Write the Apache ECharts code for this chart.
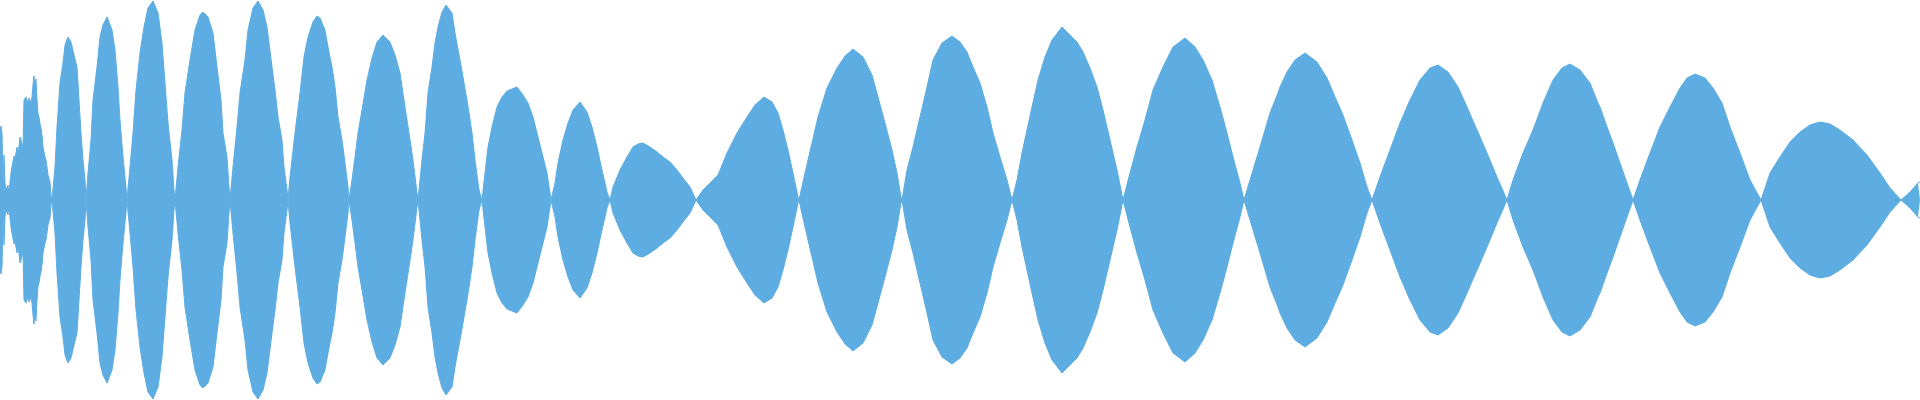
<!DOCTYPE html>
<html>
<head>
<meta charset="utf-8">
<script src="https://cdn.jsdelivr.net/npm/echarts@6/dist/echarts.min.js"></script>
<style>
  html, body { margin: 0; padding: 0; background: #ffffff; }
  #chart { width: 1920px; height: 400px; }
</style>
</head>
<body>
<div id="chart"></div>
<script>
// Sample positions (x, in samples) and envelope amplitude
const sampleX = [
  0,1,2,3,4,5,6,7,8,9,10,11,12,13,14,15,16,17,18,19,20,21,22,23,24,25,26,27,28,29,30,31,32,33,34,35,36,37,38,39,40,41,42,43,44,45,46,47,48,49,50,51,52,
  55,57,60,63,65,68,71,74,77,79,81,83,85,86,
  88,91,93,97,100,103,107,112,115,118,120,123,126,127,
  130,133,136,140,144,148,153,158,162,165,168,172,174,175,
  178,182,185,190,195,200,203,208,213,217,221,223,227,229,230,
  233,237,240,245,248,253,258,263,267,272,275,278,282,284,287,288,
  290,295,300,304,308,313,317,320,325,328,332,335,338,342,345,348,349,
  352,355,358,362,367,372,377,383,390,395,400,405,409,413,417,418,
  422,425,428,432,435,438,442,446,452,455,460,463,467,472,475,479,482,
  485,488,492,497,502,507,512,517,523,528,533,538,543,547,550,551,
  555,558,563,568,573,580,587,592,597,602,607,610,
  613,620,627,633,638,643,650,657,663,670,677,683,690,696,
  703,710,718,727,737,747,755,764,772,778,783,788,793,798,799,
  805,812,818,827,837,845,853,863,872,878,885,892,897,901,902,
  907,913,920,927,933,942,952,960,967,973,980,987,993,1000,1007,1012,
  1017,1022,1027,1032,1038,1045,1052,1062,1070,1077,1083,1090,1097,1103,1110,1117,1123,
  1130,1137,1145,1153,1163,1173,1185,1195,1203,1212,1220,1227,1233,1240,1244,
  1250,1260,1270,1278,1280,1287,1295,1305,1317,1327,1335,1343,1352,1360,1367,1372,
  1380,1390,1400,1410,1420,1430,1438,1448,1458,1467,1477,1487,1497,1507,
  1513,1523,1533,1543,1553,1562,1570,1580,1590,1598,1600,1607,1613,1620,1627,1633,
  1640,1650,1660,1670,1680,1687,1695,1705,1713,1722,1730,1740,1750,1761,
  1770,1780,1790,1800,1810,1820,1830,1840,1853,1867,1880,1890,1901,
  1910,1918,1920
];
const amplitude = [
  67,74,67,17,45,17,10,10,15,5,18,27,33,33,44,41,41,53,45,54,63,60,56,53,100,100,103,100,97,102,100,97,103,115,124,113,121,100,86,83,76,72,65,53,52,43,40,33,25,23,18,5,0,
  33,73,117,137,155,163,158,145,133,100,67,40,20,0,
  27,60,100,133,163,175,183,170,150,113,80,43,13,0,
  33,67,110,147,173,192,199,187,157,117,77,40,10,0,
  33,70,107,140,170,185,188,183,167,133,100,67,43,13,0,
  33,73,107,140,170,192,199,190,173,133,110,83,60,33,10,0,
  23,67,107,143,163,178,184,182,170,153,133,113,83,60,37,13,0,
  20,43,67,90,120,142,158,165,158,145,127,93,67,40,7,0,
  40,67,107,133,157,173,188,195,187,167,140,123,100,67,40,10,0,
  27,53,73,93,103,109,111,113,105,97,83,63,43,27,7,0,
  17,37,60,77,90,98,88,73,53,30,8,0,
  13,30,43,53,56,57,53,48,43,38,30,22,13,0,
  10,17,25,47,67,83,95,103,98,87,70,50,27,3,0,
  27,57,83,112,132,144,151,143,125,103,77,50,27,3,0,
  30,53,83,113,140,157,164,158,148,133,117,93,67,43,20,0,
  20,47,70,93,120,143,160,173,165,158,148,132,113,90,60,30,0,
  27,53,80,110,133,153,162,153,140,120,93,67,43,17,0,
  20,53,87,107,113,128,140,147,138,122,103,85,60,37,13,0,
  23,50,77,100,120,132,135,128,113,93,70,47,23,0,
  20,47,70,97,120,132,136,130,117,97,93,73,57,37,17,0,
  20,47,73,93,112,122,126,122,112,97,73,47,20,0,
  27,43,58,68,75,78,76,70,60,45,27,12,0,
  8,17,18
];

const upper = sampleX.map((x, i) => [x, amplitude[i]]);
const lower = sampleX.map((x, i) => [x, -amplitude[i]]);

const color = '#5DADE2';
const chart = echarts.init(document.getElementById('chart'), null, { renderer: 'canvas' });
chart.setOption({
  animation: false,
  backgroundColor: '#ffffff',
  grid: { left: 0, right: 0, top: 0, bottom: 0 },
  xAxis: { type: 'value', min: 0, max: 1920, show: false },
  yAxis: { type: 'value', min: -200, max: 200, show: false },
  series: [
    {
      type: 'line', data: upper, showSymbol: false, smooth: false,
      lineStyle: { color: color, width: 1 }, areaStyle: { color: color, opacity: 1 },
      itemStyle: { color: color }
    },
    {
      type: 'line', data: lower, showSymbol: false, smooth: false,
      lineStyle: { color: color, width: 1 }, areaStyle: { color: color, opacity: 1 },
      itemStyle: { color: color }
    }
  ]
});
</script>
</body>
</html>
